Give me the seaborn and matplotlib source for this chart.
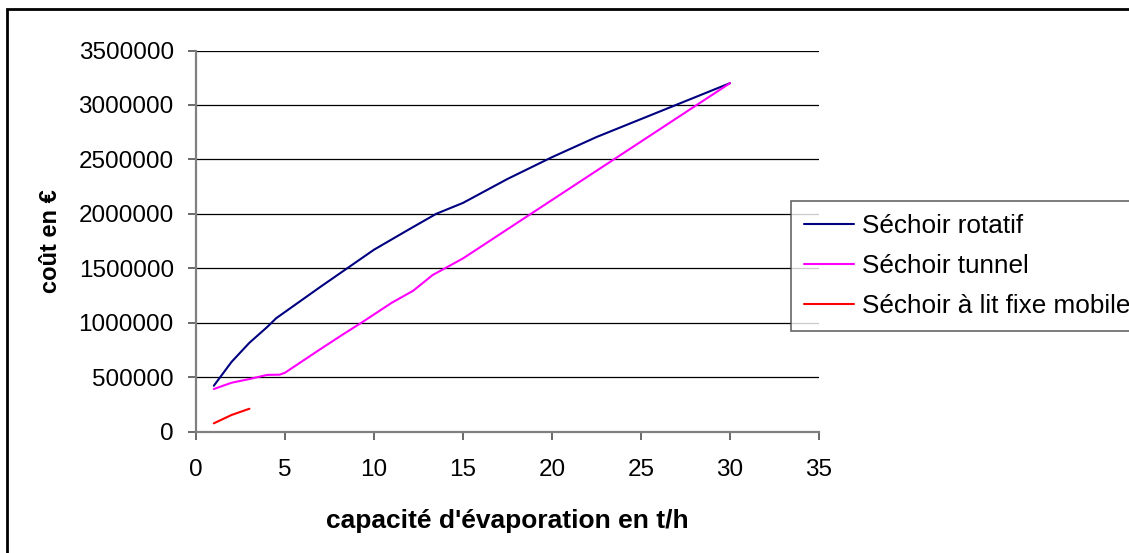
import matplotlib
matplotlib.use("Agg")
import matplotlib.pyplot as plt
import seaborn as sns
import pandas as pd

# Capacité d'évaporation (t/h) et coût (€) par type de séchoir
x_rotatif = [1, 2, 3, 4, 4.5, 7, 8.5, 10, 12, 13.5, 15, 17.5, 20, 22.5, 25, 30]
y_rotatif = [420000, 640000, 815000, 960000, 1040000, 1330000, 1500000, 1670000,
             1860000, 2000000, 2100000, 2320000, 2520000, 2705000, 2870000, 3200000]

x_tunnel = [1, 2, 3, 4, 4.7, 5, 7, 8.2, 9.3, 11, 12.2, 13.3, 15, 30]
y_tunnel = [390000, 448000, 482000, 520000, 522000, 540000, 758000, 886000,
            1000000, 1183000, 1293000, 1438000, 1590000, 3200000]

x_lit = [1, 2, 3]
y_lit = [75000, 152000, 209000]

series_names = ["Séchoir rotatif", "Séchoir tunnel", "Séchoir à lit fixe mobile"]
series_colors = ["#000080", "#FF00FF", "#FF0000"]

x_ticks = [0, 5, 10, 15, 20, 25, 30, 35]
y_ticks = [0, 500000, 1000000, 1500000, 2000000, 2500000, 3000000, 3500000]

df = pd.concat([
    pd.DataFrame({"x": x_rotatif, "y": y_rotatif, "serie": series_names[0]}),
    pd.DataFrame({"x": x_tunnel, "y": y_tunnel, "serie": series_names[1]}),
    pd.DataFrame({"x": x_lit, "y": y_lit, "serie": series_names[2]}),
], ignore_index=True)

sns.set_style("white")
plt.rcParams["font.family"] = ["Liberation Sans", "DejaVu Sans"]
plt.rcParams.update({"text.color": "black", "axes.labelcolor": "black",
                     "xtick.color": "black", "ytick.color": "black"})

W, H = 1129, 553
fig = plt.figure(figsize=(W / 100, H / 100), dpi=100)
ax = fig.add_axes([196 / W, 1 - 431.5 / H, (819 - 196) / W, (431.5 - 50.5) / H])

sns.lineplot(data=df, x="x", y="y", hue="serie", hue_order=series_names,
             palette=series_colors, sort=False, estimator=None, linewidth=1.5,
             ax=ax, legend=False)

ax.set_xlim(0, 35)
ax.set_ylim(0, 3500000)
ax.set_xticks(x_ticks)
ax.set_yticks(y_ticks)
ax.set_xticklabels([str(v) for v in x_ticks], fontsize=17.5)
ax.set_yticklabels([str(v) for v in y_ticks], fontsize=17.5)
ax.yaxis.grid(True, color="black", linewidth=0.9)
ax.xaxis.grid(False)
ax.set_axisbelow(True)

for side in ["top", "right"]:
    ax.spines[side].set_visible(False)
for side in ["left", "bottom"]:
    ax.spines[side].set_color("#808080")
    ax.spines[side].set_linewidth(1.6)

ax.tick_params(axis="both", direction="out", length=6, width=1.2, color="#505050",
               labelcolor="black", bottom=True, left=True)
ax.tick_params(axis="x", pad=14)
ax.tick_params(axis="y", pad=10)

ax.set_xlabel("capacité d'évaporation en t/h", fontsize=19, fontweight="bold", labelpad=20)
ax.set_ylabel("coût en €", fontsize=17, fontweight="bold", labelpad=12)

# Légende
handles = [plt.Line2D([0], [0], color=c, lw=1.5) for c in series_colors]
leg = fig.legend(handles, series_names, loc="upper left",
                 bbox_to_anchor=(791 / W, 1 - 201 / H), fontsize=18.8,
                 frameon=True, fancybox=False, edgecolor="#404040",
                 handlelength=1.9, handletextpad=0.3, labelspacing=0.62,
                 borderpad=0.5, borderaxespad=0)
leg.get_frame().set_linewidth(1.2)
for t in leg.get_texts():
    t.set_color("black")

# Cadre extérieur (bords droit et bas hors champ)
fig.patches.append(plt.Rectangle((7 / W, -0.1), 1.2, 1 + 0.1 - 8.7 / H,
                                 transform=fig.transFigure, fill=False,
                                 edgecolor="black", linewidth=2))

fig.savefig("out.png", dpi=100, facecolor="white")
